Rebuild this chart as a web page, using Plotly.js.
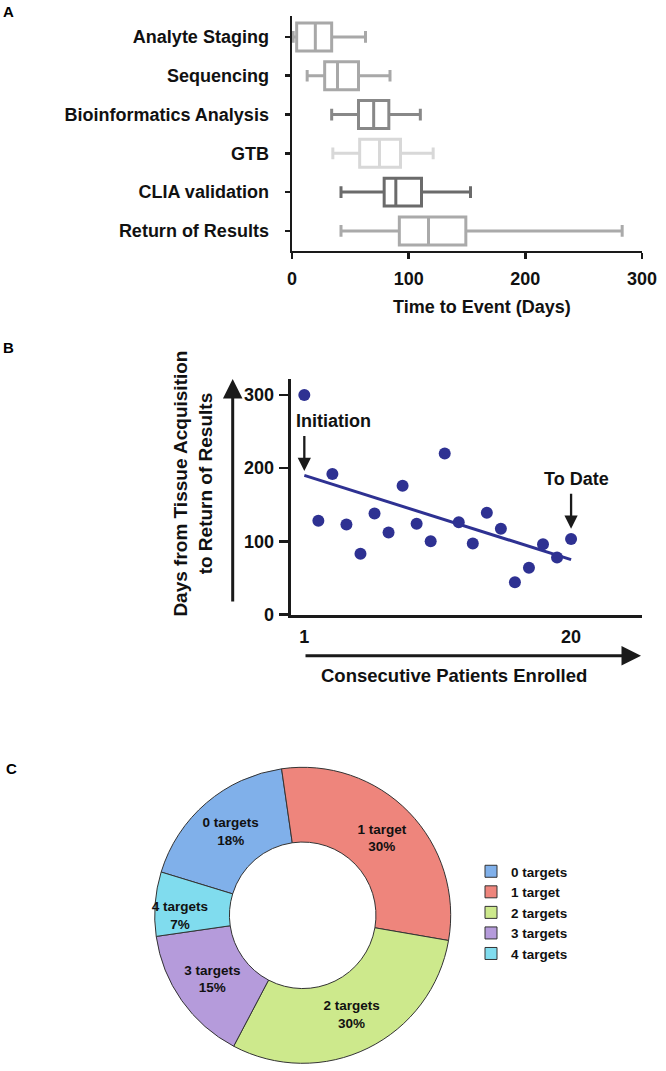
<!DOCTYPE html>
<html>
<head>
<meta charset="utf-8">
<script src="https://cdn.plot.ly/plotly-3.0.1.min.js"></script>
<style>
html,body{margin:0;padding:0;background:#fff;}
#chart{width:666px;height:1071px;}
</style>
</head>
<body>
<div id="chart"></div>
<script>
// ---------- Panel A: time to event box plots ----------
const stageNames = ['Analyte Staging','Sequencing','Bioinformatics Analysis','GTB','CLIA validation','Return of Results'];
const stageLow    = [1, 13, 34, 35, 42, 42];
const stageQ1     = [4, 28, 57, 58, 79, 92];
const stageMedian = [20, 39, 70, 75, 89, 117];
const stageQ3     = [34, 57, 83, 93, 111, 149];
const stageHigh   = [63, 84, 110, 121, 153, 283];
const stageColors = ['#a8a8a8','#a8a8a8','#888888','#d8d8d8','#6b6b6b','#aaaaaa'];
const timeTicks   = [0, 100, 200, 300];

// ---------- Panel B: days to return of results ----------
const patients = [1,2,3,4,5,6,7,8,9,10,11,12,13,14,15,16,17,18,19,20];
const daysToReturn = [300,128,192,123,83,138,112,176,124,100,220,126,97,139,117,44,64,96,78,103];
const trendX = [1, 20];
const trendY = [190, 75];
const dayTicks = [0, 100, 200, 300];
const patientTicks = [1, 20];

// ---------- Panel C: number of targets ----------
const targetLabels = ['0 targets','1 target','2 targets','3 targets','4 targets'];
const targetPct    = [18, 30, 30, 15, 7];
const targetColors = ['#80b0ea','#ee857c','#cde98c','#b59bdb','#80dcee'];

const FONT = 'Liberation Sans, Arial, Helvetica, sans-serif';
const W = 666, H = 1071;
const px = v => v / W;
const py = v => 1 - v / H;

const traces = [];

stageNames.forEach((name, i) => {
  traces.push({
    type: 'box', orientation: 'h',
    y: [name],
    q1: [stageQ1[i]], median: [stageMedian[i]], q3: [stageQ3[i]],
    lowerfence: [stageLow[i]], upperfence: [stageHigh[i]],
    boxpoints: false,
    width: 0.72, whiskerwidth: 0.42,
    line: {color: stageColors[i], width: 3},
    fillcolor: 'rgba(255,255,255,0)',
    xaxis: 'x', yaxis: 'y',
    showlegend: false, hoverinfo: 'skip'
  });
});

traces.push({
  type: 'scatter', mode: 'lines',
  x: trendX, y: trendY,
  line: {color: '#2e3192', width: 3},
  xaxis: 'x2', yaxis: 'y2', showlegend: false, hoverinfo: 'skip', cliponaxis: false
});
traces.push({
  type: 'scatter', mode: 'markers',
  x: patients, y: daysToReturn,
  marker: {color: '#2e3192', size: 12},
  xaxis: 'x2', yaxis: 'y2', showlegend: false, hoverinfo: 'skip', cliponaxis: false
});

traces.push({
  type: 'pie',
  labels: targetLabels, values: targetPct,
  sort: false, direction: 'clockwise', rotation: 287,
  hole: 0.495,
  domain: {x: [px(302.7 - 148), px(302.7 + 148)], y: [py(1063.3), py(767.3)]},
  marker: {colors: targetColors, line: {color: '#333333', width: 1}},
  textinfo: 'label+percent',
  textposition: 'inside',
  insidetextorientation: 'horizontal',
  textfont: {family: FONT, size: 13.5, color: '#111', weight: 'bold'},
  insidetextfont: {family: FONT, size: 13.5, color: '#111', weight: 'bold'},
  showlegend: true, hoverinfo: 'skip'
});

const axLine = '#1a1a1a';
const tickFont = {family: FONT, size: 18, color: '#111', weight: 'bold'};

const annotations = [
  {text: 'A', x: px(8), y: py(11.7), font: {family: FONT, size: 15, color: '#000', weight: 'bold'}},
  {text: 'B', x: px(8), y: py(348), font: {family: FONT, size: 15, color: '#000', weight: 'bold'}},
  {text: 'C', x: px(11), y: py(768), font: {family: FONT, size: 15, color: '#000', weight: 'bold'}},
  {text: 'Time to Event (Days)', x: px(481.7), y: py(306.7), font: tickFont},
  {text: 'Days from Tissue Acquisition<br>to Return of Results', x: px(193.3), y: py(483.3), textangle: -90,
   font: {family: FONT, size: 19, color: '#111', weight: 'bold'}},
  {text: 'Consecutive Patients Enrolled', x: px(454.2), y: py(675.7), font: {family: FONT, size: 18.5, color: '#111', weight: 'bold'}},
  // big axis arrows
  {text: '', x: px(232.7), y: py(379), showarrow: true, ax: 0, ay: 224, axref: 'pixel', ayref: 'pixel',
   arrowhead: 2, arrowsize: 1.3, arrowwidth: 3, arrowcolor: '#1a1a1a', font: {size: 1}},
  {text: '', x: px(641), y: py(655.7), showarrow: true, ax: -337, ay: 0, axref: 'pixel', ayref: 'pixel',
   arrowhead: 2, arrowsize: 1.3, arrowwidth: 3, arrowcolor: '#1a1a1a', font: {size: 1}}
].map(a => Object.assign({xref: 'paper', yref: 'paper', showarrow: false, xanchor: 'center', yanchor: 'middle'}, a));

// panel B callouts in data coordinates
annotations.push(
  {text: 'Initiation', xref: 'x2', yref: 'y2', x: 3.08, y: 264.8, showarrow: false,
   font: {family: FONT, size: 18, color: '#111', weight: 'bold'}},
  {text: '', xref: 'x2', yref: 'y2', x: 1, y: 196, axref: 'x2', ayref: 'y2', ax: 1, ay: 246,
   showarrow: true, arrowhead: 2, arrowsize: 1.15, arrowwidth: 2.3, arrowcolor: '#1a1a1a', font: {size: 1}},
  {text: 'To Date', xref: 'x2', yref: 'y2', x: 20.38, y: 185, showarrow: false,
   font: {family: FONT, size: 18, color: '#111', weight: 'bold'}},
  {text: '', xref: 'x2', yref: 'y2', x: 20, y: 117, axref: 'x2', ayref: 'y2', ax: 20, ay: 167,
   showarrow: true, arrowhead: 2, arrowsize: 1.15, arrowwidth: 2.3, arrowcolor: '#1a1a1a', font: {size: 1}}
);

const layout = {
  width: W, height: H,
  margin: {l: 0, r: 0, t: 0, b: 0, pad: 0},
  paper_bgcolor: '#fff', plot_bgcolor: 'rgba(0,0,0,0)',
  font: {family: FONT, color: '#111'},
  hovermode: false,
  boxmode: 'overlay',
  showlegend: true,
  uniformtext: {minsize: 13.5, mode: 'show'},
  legend: {
    x: px(471), y: py(856), xanchor: 'left', yanchor: 'top',
    font: {family: FONT, size: 13.5, color: '#111', weight: 'bold'},
    bgcolor: 'rgba(0,0,0,0)', traceorder: 'normal', itemclick: false, itemdoubleclick: false
  },
  xaxis: {
    domain: [px(292), px(642)], range: [0, 300], anchor: 'y',
    tickvals: timeTicks, ticks: 'outside', ticklen: 6, tickwidth: 2.5, tickcolor: axLine,
    showline: true, linewidth: 2.5, linecolor: axLine,
    showgrid: false, zeroline: false, tickfont: tickFont, ticklabelstandoff: 4
  },
  yaxis: {
    domain: [py(250.7), py(16)], type: 'category', range: [5.51, -0.54], anchor: 'x',
    categoryarray: stageNames, tickvals: stageNames,
    ticks: 'outside', ticklen: 5, tickwidth: 2.5, tickcolor: axLine,
    showline: true, linewidth: 2.5, linecolor: axLine,
    showgrid: false, zeroline: false, tickfont: tickFont, ticklabelstandoff: 12
  },
  xaxis2: {
    domain: [px(290.7), px(641.7)], range: [0.03, 25.03], anchor: 'y2',
    tickvals: patientTicks, ticks: '', showline: true, linewidth: 3, linecolor: axLine,
    showgrid: false, zeroline: false, tickfont: tickFont, ticklabelstandoff: 4
  },
  yaxis2: {
    domain: [py(614.5), py(379)], range: [0, 321.7], anchor: 'x2',
    tickvals: dayTicks, ticks: 'outside', ticklen: 9, tickwidth: 2.5, tickcolor: axLine,
    showline: true, linewidth: 3, linecolor: axLine,
    showgrid: false, zeroline: false, tickfont: tickFont, ticklabelstandoff: 1
  },
  annotations: annotations
};

Plotly.newPlot('chart', traces, layout, {displayModeBar: false, staticPlot: true});
</script>
</body>
</html>
